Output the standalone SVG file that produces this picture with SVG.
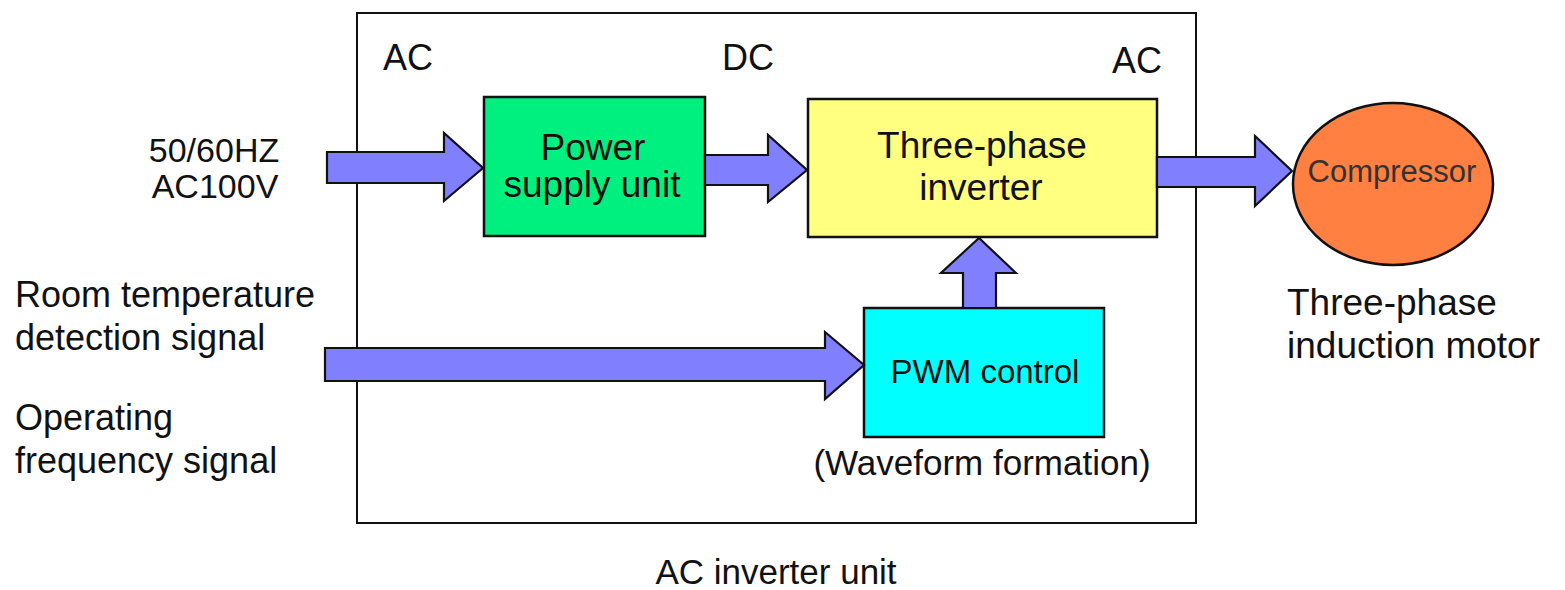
<svg xmlns="http://www.w3.org/2000/svg" width="1565" height="590" viewBox="0 0 1565 590">
<style>
text{font-family:"Liberation Sans",Arial,Helvetica,sans-serif;fill:#111;}
.lbl{font-size:36px;}
.box{font-size:37px;text-anchor:middle;}
.arrow{fill:#8080FF;stroke:#111;stroke-width:2.2;stroke-linejoin:miter;}
.node{stroke:#111;stroke-width:2.5;}
</style>
<rect width="1565" height="590" fill="#fff"/>
<g id="inverter-unit-frame">
<rect x="357" y="13" width="839" height="510" fill="none" stroke="#111" stroke-width="2"/>
<text class="lbl" x="776" y="584" text-anchor="middle" style="font-size:35px">AC inverter unit</text>
</g>
<g id="stage-labels">
<text class="lbl" x="383" y="70">AC</text>
<text class="lbl" x="722" y="70">DC</text>
<text class="lbl" x="1112" y="73">AC</text>
</g>
<g id="input-labels">
<text class="lbl" x="214" y="162" text-anchor="middle" style="font-size:34px">50/60HZ</text>
<text class="lbl" x="215" y="198" text-anchor="middle" style="font-size:34px">AC100V</text>
<text class="lbl" x="15" y="307">Room temperature</text>
<text class="lbl" x="15" y="350">detection signal</text>
<text class="lbl" x="15" y="430">Operating</text>
<text class="lbl" x="15" y="473">frequency signal</text>
</g>
<g id="power-supply-unit">
<rect class="node" x="484" y="97" width="221" height="139" fill="#00F080"/>
<text class="box" x="593" y="160">Power</text>
<text class="box" x="592" y="197">supply unit</text>
</g>
<g id="three-phase-inverter">
<rect class="node" x="808" y="99" width="349" height="138" fill="#FFFF80"/>
<text class="box" x="982" y="158">Three-phase</text>
<text class="box" x="981" y="200">inverter</text>
</g>
<g id="pwm-control">
<rect class="node" x="864" y="308" width="240" height="129" fill="#00FFFF"/>
<text x="985" y="383" text-anchor="middle" style="font-size:33px">PWM control</text>
<text class="lbl" x="982" y="475" text-anchor="middle" style="font-size:35px">(Waveform formation)</text>
</g>
<g id="compressor">
<ellipse class="node" cx="1393" cy="184" rx="100" ry="81" fill="#FF8040"/>
<text x="1392" y="182" text-anchor="middle" style="font-size:31px;fill:#333">Compressor</text>
<text class="lbl" x="1287" y="315" style="font-size:37px">Three-phase</text>
<text class="lbl" x="1287" y="358" style="font-size:37px">induction motor</text>
</g>
<g id="connectors">
<polygon class="arrow" points="327,152 444,152 444,133 483,168 444,201 444,183 327,183"/>
<polygon class="arrow" points="705,155 768,155 768,135 807,170 768,202 768,185 705,185"/>
<polygon class="arrow" points="1157,157 1255,157 1255,136 1292,171 1255,206 1255,187 1157,187"/>
<polygon class="arrow" points="963,308 963,273 941,273 979,238 1016,273 996,273 996,308"/>
<polygon class="arrow" points="325,348 825,348 825,332 864,365 825,399 825,381 325,381"/>
</g>
</svg>
